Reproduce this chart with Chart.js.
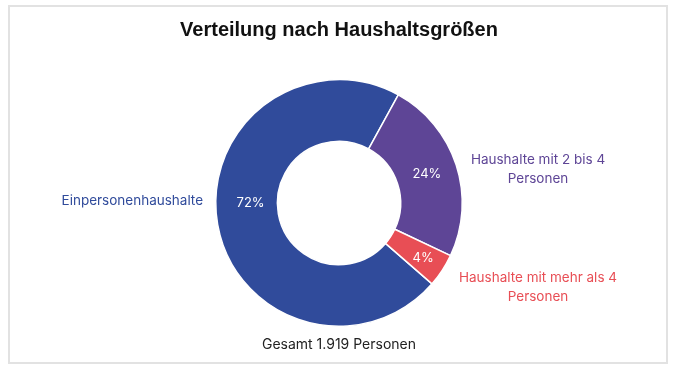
<!DOCTYPE html>
<html>
<head>
<meta charset="utf-8">
<script src="https://cdn.jsdelivr.net/npm/chart.js@4"></script>
<style>
    html, body { margin: 0; padding: 0; background: #fff; }
    #wrap { position: relative; width: 680px; height: 375px; }
    #frame { position: absolute; left: 8px; top: 5px; width: 656px; height: 355px; border: 2px solid #e2e2e2; }
    #c { position: absolute; left: 0; top: 0; }
</style>
</head>
<body>
<div id="wrap">
    <div id="frame"></div>
    <canvas id="c" width="680" height="375"></canvas>
</div>
<script>
// ===== Haushaltsgrößen (doughnut) =====
const TITLE = 'Verteilung nach Haushaltsgrößen';
const TOTAL_LABEL = 'Gesamt 1.919 Personen';
const labels = ['Einpersonenhaushalte', ['Haushalte mit 2 bis 4', 'Personen'], ['Haushalte mit mehr als 4', 'Personen']];
const persons = [1374, 461, 84];
const percentLabels = ['72%', '24%', '4%'];
const COLORS = ['#304b9b', '#5e4596', '#e84e55'];

const FONT = "Inter, 'Noto Sans', sans-serif";

// label placement relative to the doughnut centre
const OUT_LABELS = [
    { dx: -136, dy: -2, align: 'right' },
    { dx: 199, dy: -43, align: 'center' },
    { dx: 199, dy: 75, align: 'center' }
];
const IN_ANGLE = [-Math.PI, null, null]; // big slice label sits on the left, others at mid angle
const IN_SHIFT = [-4, 0, 8];

const sliceLabels = {
    id: 'sliceLabels',
    afterDatasetsDraw(chart) {
        const ctx = chart.ctx;
        const meta = chart.getDatasetMeta(0);
        ctx.save();
        ctx.textBaseline = 'middle';
        meta.data.forEach((arc, i) => {
            const { x, y, innerRadius, outerRadius, startAngle, endAngle } = arc.getProps(['x', 'y', 'innerRadius', 'outerRadius', 'startAngle', 'endAngle'], true);
            const a = IN_ANGLE[i] != null ? IN_ANGLE[i] : (startAngle + endAngle) / 2;
            const r = (innerRadius + outerRadius) / 2 + IN_SHIFT[i];
            ctx.fillStyle = '#fff';
            ctx.textAlign = 'center';
            ctx.font = '13px ' + FONT;
            ctx.fillText(percentLabels[i], x + Math.cos(a) * r, y + Math.sin(a) * r);

            const o = OUT_LABELS[i];
            const lines = [].concat(labels[i]);
            ctx.fillStyle = COLORS[i];
            ctx.textAlign = o.align;
            ctx.font = '13.5px ' + FONT;
            lines.forEach((ln, k) => ctx.fillText(ln, x + o.dx, y + o.dy + k * 18.5));
        });
        ctx.restore();
    }
};

const ctx = document.getElementById('c').getContext('2d');
new Chart(ctx, {
    type: 'doughnut',
    data: { labels, datasets: [{ data: persons, backgroundColor: COLORS, borderColor: '#fff', borderWidth: 1.5 }] },
    options: {
        responsive: false, animation: false, cutout: '50%', rotation: 131,
        layout: { padding: { left: 0, right: 2, top: 0, bottom: 0 } },
        plugins: {
            legend: { display: false },
            tooltip: { enabled: false },
            title: { display: true, text: TITLE, color: '#111', font: { family: "'Liberation Sans', Arial, sans-serif", size: 20, weight: 'bold', lineHeight: 1.2 }, padding: { top: 18, bottom: 37 } },
            subtitle: { display: true, position: 'bottom', text: TOTAL_LABEL, color: '#222', font: { family: FONT, size: 14, lineHeight: 1.2 }, padding: { top: 9.6, bottom: 21.6 } }
        }
    },
    plugins: [sliceLabels]
});
</script>
</body>
</html>
